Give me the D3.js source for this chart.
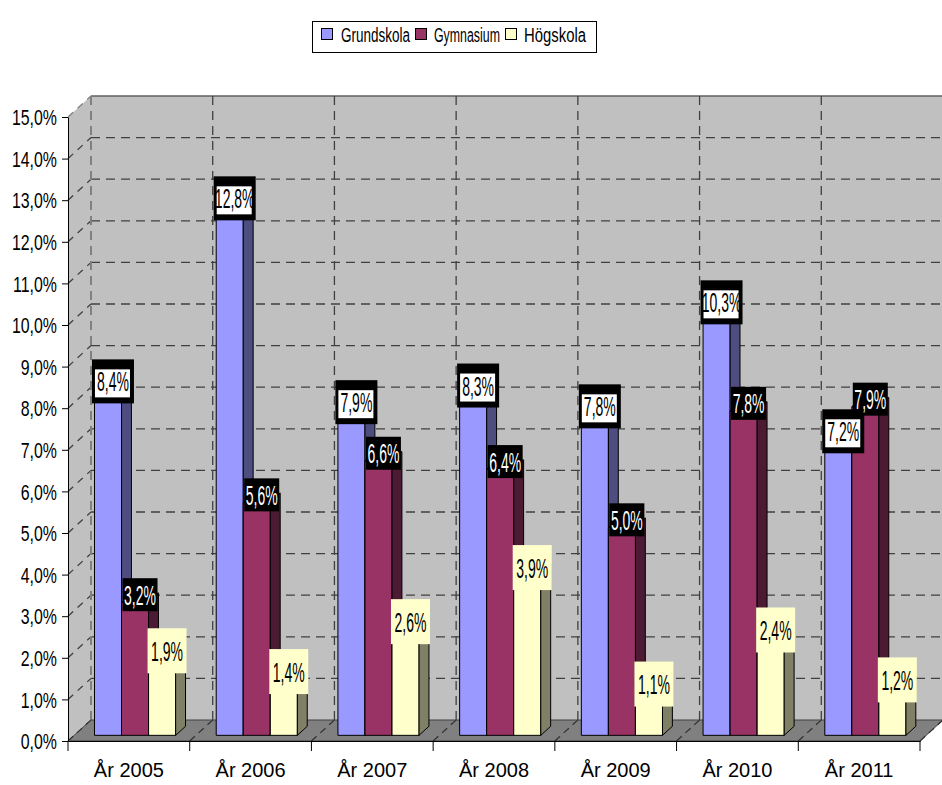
<!DOCTYPE html>
<html><head><meta charset="utf-8">
<script src="https://cdn.jsdelivr.net/npm/d3@7"></script>
<style>body{margin:0;background:#fff} svg{display:block}</style>
</head><body>
<script>
const categories = ["År 2005","År 2006","År 2007","År 2008","År 2009","År 2010","År 2011"];
const seriesNames = ["Grundskola","Gymnasium","Högskola"];
const grundskola = [8.4,12.8,7.9,8.3,7.8,10.3,7.2];
const gymnasium = [3.2,5.6,6.6,6.4,5.0,7.8,7.9];
const hogskola = [1.9,1.4,2.6,3.9,1.1,2.4,1.2];
const yTicks = [0,1,2,3,4,5,6,7,8,9,10,11,12,13,14,15];

const seriesValues = [grundskola, gymnasium, hogskola];
const frontColors = ["#9999ff","#993366","#ffffcc"];
const sideColors = ["#4d4d80","#4d1a33","#808066"];
const topColors = ["#7a7acc","#7a2952","#cccca3"];

const W = 942, H = 785;
const svg = d3.select("body").append("svg").attr("width", W).attr("height", H)
  .style("font-family", "'Liberation Sans', Arial, sans-serif");

const x0 = 68, x1 = 920, yB = 741, yT = 117, DX = 23, DY = 21;
const z0 = 0.27, z1 = 0.70, zm = (z0 + z1) / 2;

const x = d3.scaleBand().domain(categories).range([x0, x1]).padding(0);
const xs = d3.scaleBand().domain(seriesNames).range([0, x.bandwidth()]).paddingInner(0).paddingOuter(0.75);
const y = d3.scaleLinear().domain([0, 15]).range([yB, yT]);
const P = (px, v, z) => [px + z * DX, y(v) - z * DY];
const poly = pts => pts.map(p => p.join(",")).join(" ");
const fmt = v => v.toFixed(1).replace(".", ",") + "%";

// walls
svg.append("polygon").attr("points", poly([P(x0,0,0),P(x0,15,0),P(x0,15,1),P(x0,0,1)]))
  .attr("fill", "#c0c0c0");
svg.append("polygon").attr("points", poly([P(x0,0,1),P(x0,15,1),P(x1,15,1),P(x1,0,1)]))
  .attr("fill", "#c0c0c0");

// grid lines on back wall and left wall
const grid = svg.append("g").attr("fill", "none");
yTicks.filter(v => v > 0).forEach(v => {
  const a = P(x0, v, 1), b = P(x1, v, 1);
  grid.append("line").attr("x1", a[0]).attr("y1", a[1]).attr("x2", b[0]).attr("y2", b[1])
    .attr("stroke", v === 15 ? "#606060" : "#404040")
    .attr("stroke-dasharray", v === 15 ? null : "9,6").attr("stroke-width", 1.3);
  const c = P(x0, v, 0);
  grid.append("line").attr("x1", c[0]).attr("y1", c[1]).attr("x2", a[0]).attr("y2", a[1])
    .attr("stroke", v === 15 ? "#808080" : "#404040").attr("stroke-dasharray", "7,6").attr("stroke-width", 1.3);
});
const bounds = categories.map(c => x(c)).concat([x1]);
bounds.forEach((bx, k) => {
  if (k === bounds.length - 1) return;
  const a = P(bx, 0, 1), b = P(bx, 15, 1);
  grid.append("line").attr("x1", a[0]).attr("y1", a[1]).attr("x2", b[0]).attr("y2", b[1])
    .attr("stroke", k === 0 ? "#808080" : "#404040").attr("stroke-width", k === 0 ? 2 : 1.3)
    .attr("stroke-dasharray", "9,6");
});

// floor
svg.append("polygon").attr("points", poly([P(x0,0,0),P(x1,0,0),P(x1,0,1),P(x0,0,1)]))
  .attr("fill", "#808080").attr("stroke", "#404040").attr("stroke-width", 1);
bounds.forEach(bx => {
  const a = P(bx, 0, 0), b = P(bx, 0, 1);
  svg.append("line").attr("x1", a[0]).attr("y1", a[1]).attr("x2", b[0]).attr("y2", b[1])
    .attr("stroke", "#303030").attr("stroke-dasharray", "7,5").attr("stroke-width", 1.2);
});

// bars
const bars = svg.append("g").attr("stroke", "#000").attr("stroke-width", 1).attr("stroke-linejoin", "round");
categories.forEach((cat, i) => {
  seriesNames.forEach((s, j) => {
    const v = seriesValues[j][i];
    const bx = x(cat) + xs(s), bw = xs.bandwidth();
    bars.append("polygon").attr("points", poly([P(bx,0,z0),P(bx,v,z0),P(bx+bw,v,z0),P(bx+bw,0,z0)]))
      .attr("fill", frontColors[j]);
    bars.append("polygon").attr("points", poly([P(bx+bw,0,z0),P(bx+bw,v,z0),P(bx+bw,v,z1),P(bx+bw,0,z1)]))
      .attr("fill", sideColors[j]);
    bars.append("polygon").attr("points", poly([P(bx,v,z0),P(bx+bw,v,z0),P(bx+bw,v,z1),P(bx,v,z1)]))
      .attr("fill", topColors[j]);
  });
});

// axes
const yAxis = d3.axisLeft(y).tickValues(yTicks).tickSize(6).tickSizeOuter(0).tickFormat(fmt);
const ya = svg.append("g").attr("transform", `translate(${x0},0)`).call(yAxis);
ya.select(".domain").attr("stroke", "#000");
ya.selectAll(".tick line").attr("stroke", "#000");
const ySx = 0.74;
ya.selectAll(".tick text").attr("font-size", 21.5).attr("font-family", "'Liberation Sans', Arial, sans-serif")
  .attr("fill", "#000").attr("x", -11 / ySx).attr("dy", "0.36em").attr("transform", `scale(${ySx},1)`);

const xAxis = d3.axisBottom(x).tickSize(0).tickSizeOuter(0);
const xa = svg.append("g").attr("transform", `translate(0,${yB})`).call(xAxis);
xa.select(".domain").attr("stroke", "#000");
xa.selectAll(".tick text").attr("font-size", 20).attr("font-family", "'Liberation Sans', Arial, sans-serif")
  .attr("fill", "#000").attr("y", 22).attr("dy", "0.71em");
bounds.forEach(bx => {
  svg.append("line").attr("x1", bx).attr("x2", bx).attr("y1", yB).attr("y2", yB + 10).attr("stroke", "#000");
});

// data labels
const labels = svg.append("g");
const lSx = 0.5;
categories.forEach((cat, i) => {
  seriesNames.forEach((s, j) => {
    const v = seriesValues[j][i];
    const bx = x(cat) + xs(s), bw = xs.bandwidth();
    const cx = bx + bw / 2 + zm * DX;
    let cy = y(v) - zm * DY;
    const g = labels.append("g");
    let tcol = "#000";
    if (j === 0) {
      g.append("rect").attr("x", cx - 21).attr("y", cy - 22).attr("width", 42).attr("height", 44).attr("fill", "#000");
      g.append("rect").attr("x", cx - 18).attr("y", cy - 12).attr("width", 35).attr("height", 28).attr("fill", "#fff");
    } else if (j === 1) {
      cy -= 3;
      g.append("rect").attr("x", cx - 17.5).attr("y", cy - 16.5).attr("width", 35).attr("height", 33).attr("fill", "#000");
      tcol = "#fff";
    } else {
      cy -= 1;
      g.append("rect").attr("x", cx - 19.5).attr("y", cy - 22.5).attr("width", 39).attr("height", 45).attr("fill", "#ffffcc");
    }
    g.append("text").attr("transform", `translate(${cx},${cy}) scale(${lSx},1)`)
      .attr("text-anchor", "middle").attr("dy", "0.36em").attr("font-size", 28)
      .attr("fill", tcol).text(fmt(v));
  });
});

// legend
const legend = svg.append("g");
legend.append("rect").attr("x", 312.5).attr("y", 21.5).attr("width", 284).attr("height", 31)
  .attr("fill", "#fff").attr("stroke", "#000");
const legSq = [321, 415, 505], legTx = [341, 434, 524], legW = [69, 66, 62];
seriesNames.forEach((s, j) => {
  legend.append("rect").attr("x", legSq[j] + 0.5).attr("y", 28.5).attr("width", 11).attr("height", 11)
    .attr("fill", frontColors[j]).attr("stroke", "#000");
  const t = legend.append("text").attr("font-size", 21).attr("fill", "#000").text(s);
  const natural = t.node().getComputedTextLength() || 100;
  t.attr("transform", `translate(${legTx[j]},42) scale(${legW[j] / natural},1)`);
});
</script>
</body></html>
